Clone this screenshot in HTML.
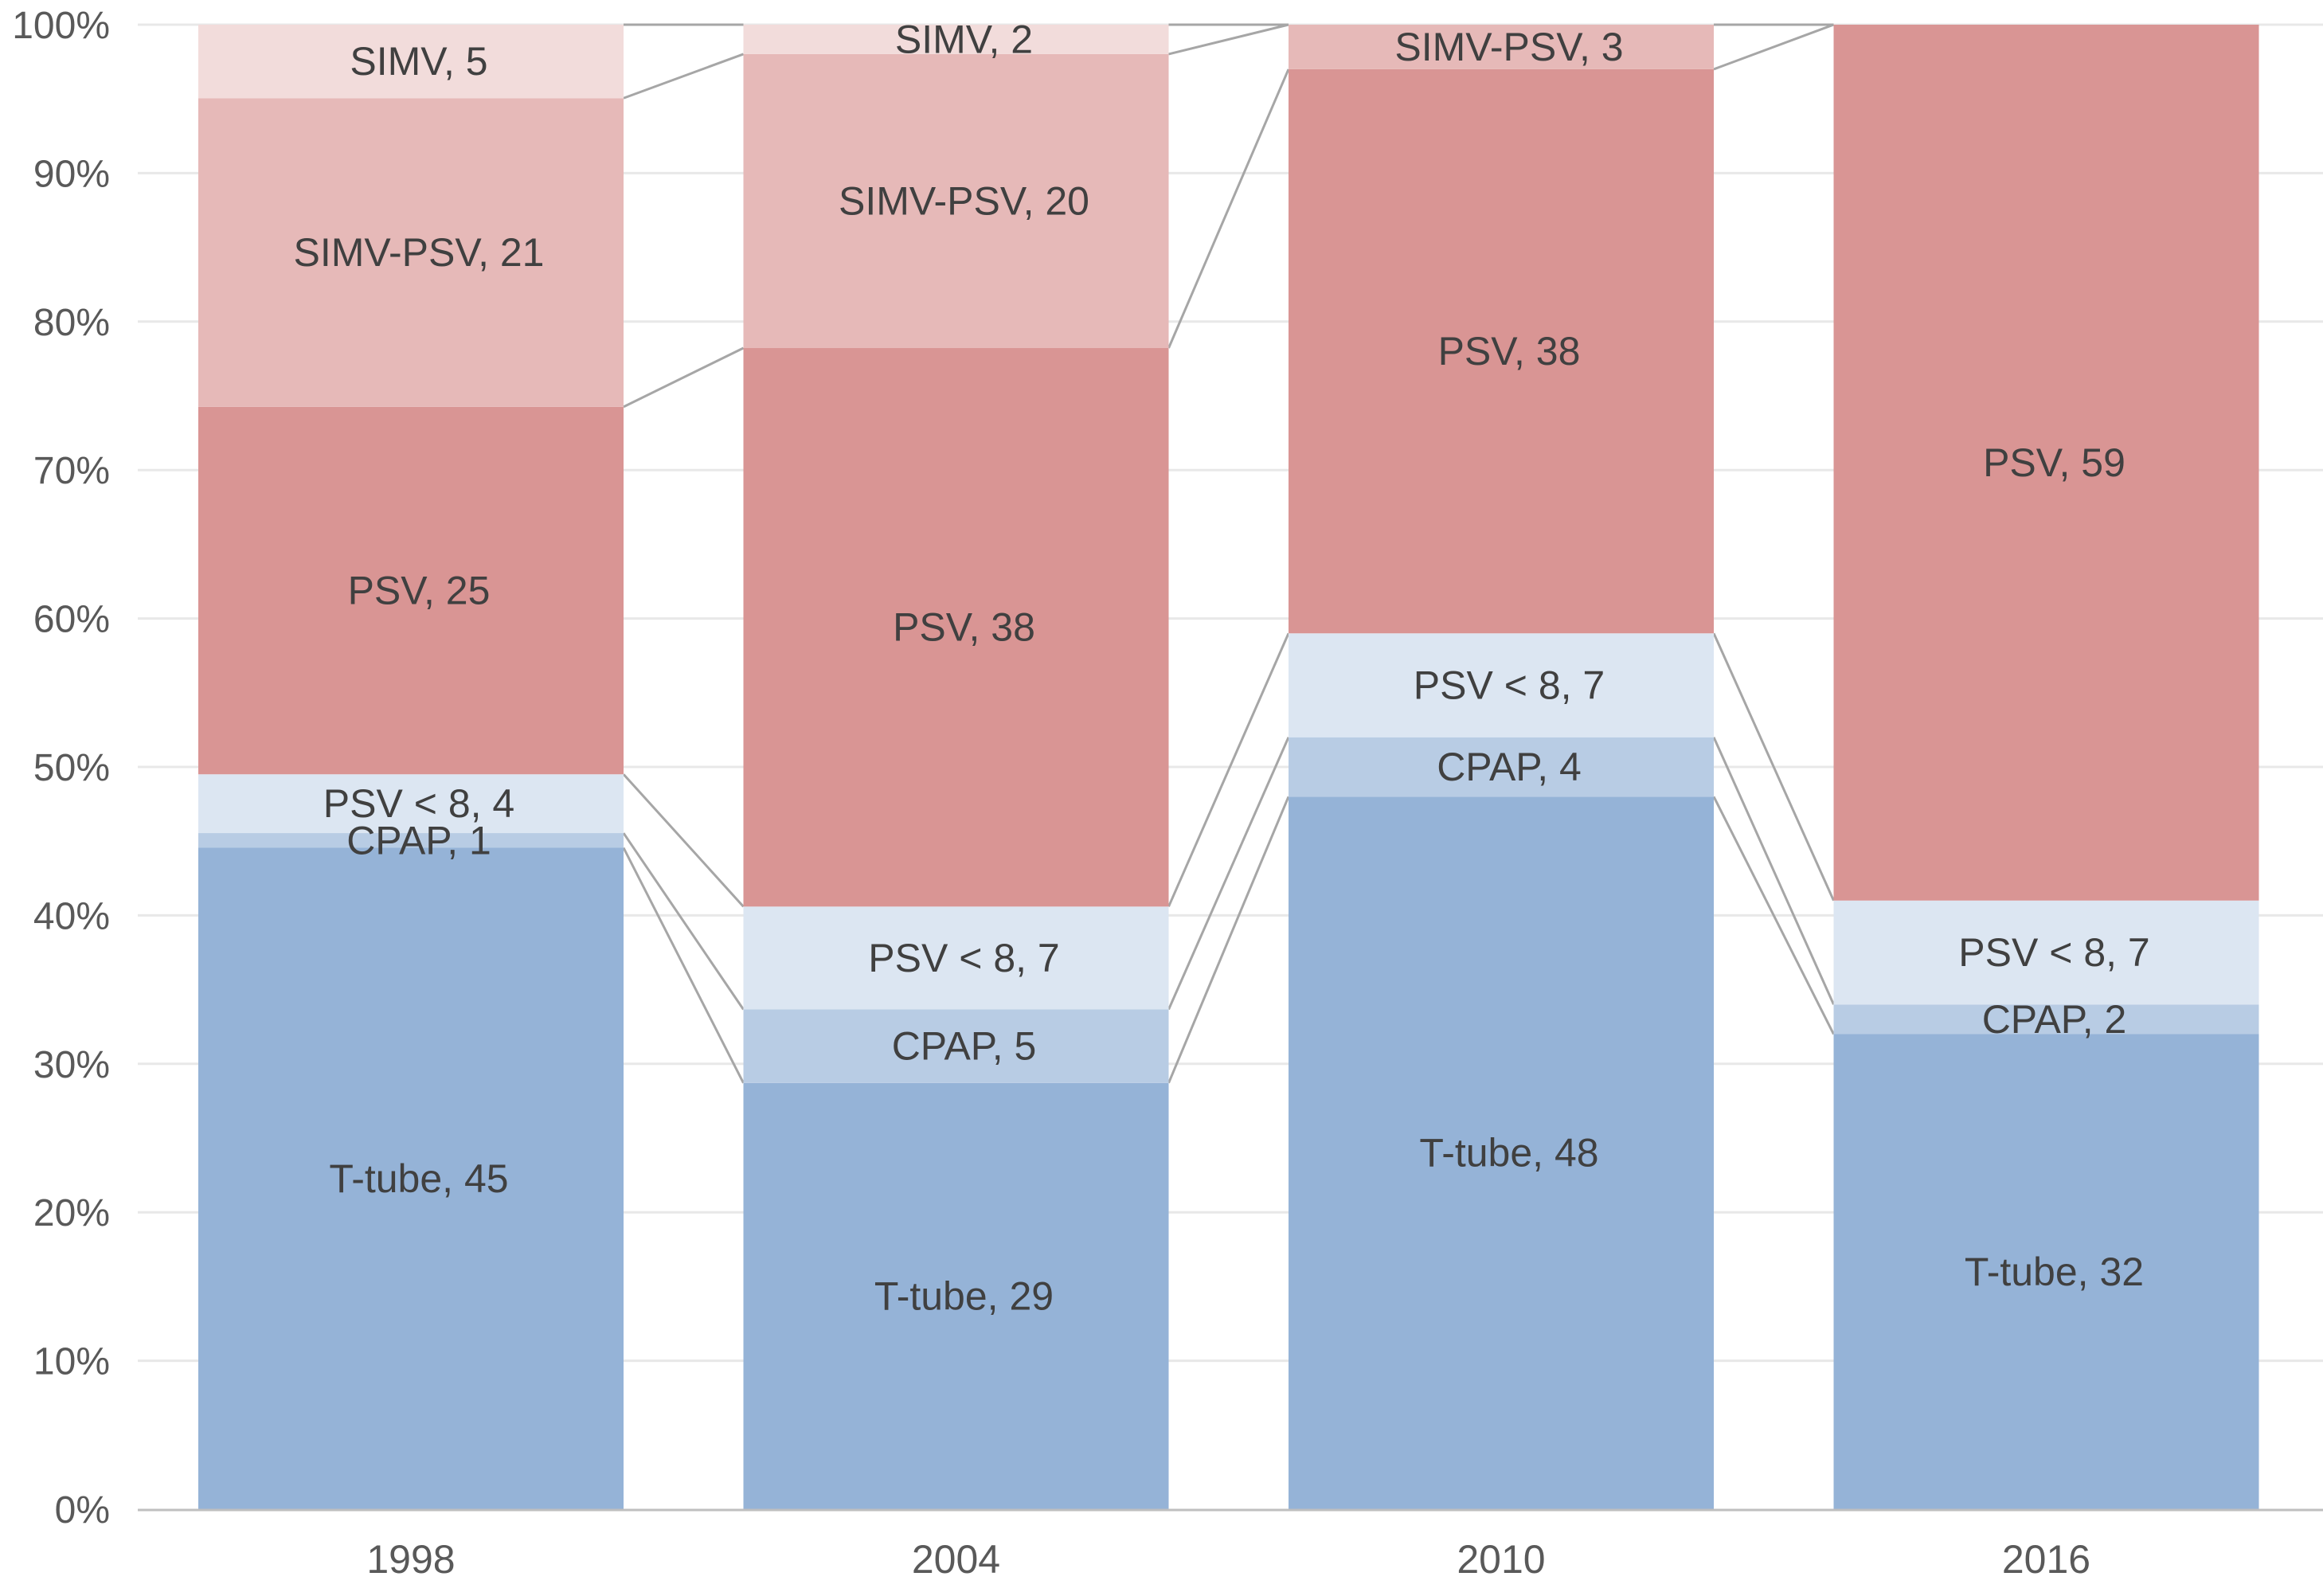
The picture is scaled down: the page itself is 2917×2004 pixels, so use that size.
<!DOCTYPE html>
<html><head><meta charset="utf-8"><style>
html,body{margin:0;padding:0;background:#fff;}
svg{display:block;font-family:"Liberation Sans",sans-serif;}
</style></head><body>
<svg id="chart" width="2917" height="2004" viewBox="0 0 2917 2004" xmlns="http://www.w3.org/2000/svg">
<g id="grid"></g>
<g id="connectors"></g>
<g id="bars"></g>
<g id="labels"></g>
<g id="yaxis"></g>
<g id="xaxis"></g>
</svg>
<script>
const categories = ["1998","2004","2010","2016"];
const seriesNames = ["T-tube","CPAP","PSV < 8","PSV","SIMV-PSV","SIMV"];
const tTube   = [45,29,48,32];
const cpap    = [1,5,4,2];
const psvLow  = [4,7,7,7];
const psv     = [25,38,38,59];
const simvPsv = [21,20,3,0];
const simv    = [5,2,0,0];
const yTicks  = [0,10,20,30,40,50,60,70,80,90,100];
const seriesValues = [tTube,cpap,psvLow,psv,simvPsv,simv];
const colors = ["#95b3d7","#b8cce4","#dce6f2","#d99594","#e6b9b8","#f2dcdb"];

const NS="http://www.w3.org/2000/svg";
const y0=1895, y100=31, plotL=173, plotR=2917;
const barW=534, firstX=249, step=684.5;
function yScale(p){return y0-(y0-y100)*p/100;}
function xLeft(i){return firstX+step*i;}
function mk(tag,attrs,parent){const e=document.createElementNS(NS,tag);for(const k in attrs)e.setAttribute(k,attrs[k]);parent.appendChild(e);return e;}

const grid=document.getElementById('grid'),yaxis=document.getElementById('yaxis');
yTicks.forEach(t=>{
  const y=yScale(t);
  if(t>0){const l=mk('line',{x1:plotL,x2:plotR,y1:y,y2:y,stroke:'#e8e8e8','stroke-width':3},grid);
  
  }
  const tx=mk('text',{x:138,y:y+17,'text-anchor':'end','font-size':48,fill:'#595959'},yaxis);
  tx.textContent=t+'%';
  
  
});

// cumulative normalized boundaries
const cum=categories.map((c,i)=>{
  const tot=seriesValues.reduce((s,a)=>s+a[i],0);let acc=0;
  return seriesValues.map(a=>{const b=acc/tot*100;acc+=a[i];return [b,acc/tot*100];});
});

const conn=document.getElementById('connectors');
for(let i=0;i<categories.length-1;i++){
  seriesNames.forEach((s,k)=>{
    const l=mk('line',{x1:xLeft(i)+barW,y1:yScale(cum[i][k][1]),x2:xLeft(i+1),y2:yScale(cum[i+1][k][1]),stroke:'#a6a6a6','stroke-width':3},conn);
    
    
  });
}

const bars=document.getElementById('bars'),labels=document.getElementById('labels');
categories.forEach((c,i)=>{
  seriesNames.forEach((s,k)=>{
    const v=seriesValues[k][i];if(v<=0)return;
    const [b,t]=cum[i][k];
    const r=mk('rect',{x:xLeft(i),y:yScale(t),width:barW,height:yScale(b)-yScale(t),fill:colors[k]},bars);
    
    
    const tx=mk('text',{x:xLeft(i)+barW/2+10,y:(yScale(t)+yScale(b))/2+17,'text-anchor':'middle','font-size':50,fill:'#404040'},labels);
    tx.textContent=s+', '+v;
    
    
  });
});

const xaxis=document.getElementById('xaxis');
const ax=mk('line',{x1:plotL,x2:plotR,y1:y0+1,y2:y0+1,stroke:'#bfbfbf','stroke-width':3},xaxis);


categories.forEach((c,i)=>{
  const tx=mk('text',{x:xLeft(i)+barW/2,y:1975,'text-anchor':'middle','font-size':50,fill:'#595959'},xaxis);
  tx.textContent=c;
  
  
});
</script>
</body></html>
